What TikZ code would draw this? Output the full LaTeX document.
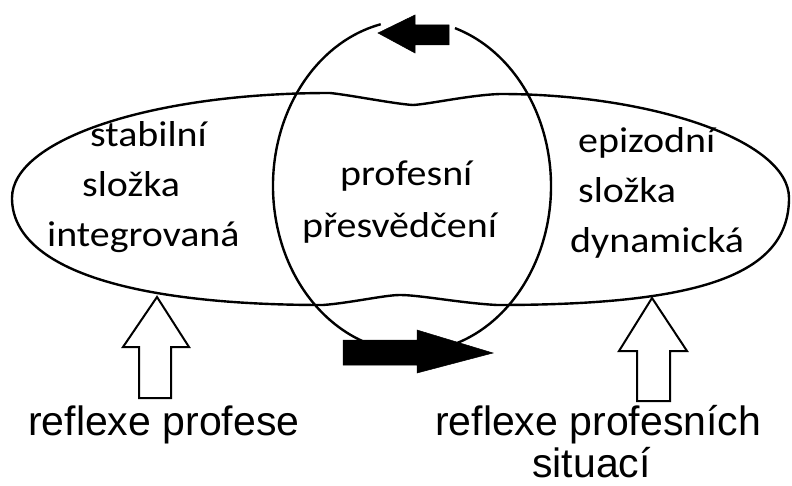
\documentclass[tikz,border=0pt]{standalone}
\usepackage{fontspec}
\usepackage{graphicx}
\setmainfont{Carlito}
\newfontfamily\arialfont{Liberation Sans}
\tikzset{
  outline/.style={line width=2.4pt, line join=round},
  blackarrow/.style={fill=black, draw=black, line width=0.5pt},
  whitearrow/.style={fill=white, draw=black, line width=2pt, line join=miter},
  uptext/.style={anchor=base west, inner sep=0pt, font=\fontsize{36}{43}\selectfont},
  lowtext/.style={anchor=base west, inner sep=0pt, font=\arialfont\fontsize{41}{48}\selectfont}
}
\newcommand{\wide}[1]{\scalebox{1.11}[1]{#1}}
\begin{document}
\begin{tikzpicture}[x=1pt,y=1pt]
\useasboundingbox (0,0) rectangle (792,485);
\fill[white] (0,0) rectangle (792,485);
% vertical ellipse (gap at the top for the arrow)
\draw[outline] (412,299) ++(103:139pt and 166pt) arc[start angle=103, end angle=432, x radius=139pt, y radius=166pt];
% horizontal ellipse with notches
\draw[outline] (12,287)
  .. controls (12,345) and (150,392) .. (330,392)
  .. controls (350,390) and (395,381) .. (413,380)
  .. controls (430,381) and (470,390) .. (500,391)
  .. controls (650,391) and (789,345) .. (789,287)
  .. controls (789,210) and (700,180) .. (497,180)
  .. controls (460,182) and (420,190) .. (400,190)
  .. controls (385,190) and (350,182) .. (323,180)
  .. controls (120,180) and (12,220) .. (12,287) -- cycle;
% black arrows
\filldraw[blackarrow] (378,452) -- (415,470) -- (415,460) -- (449,460) -- (449,440) -- (415,440) -- (415,432) -- cycle;
\filldraw[blackarrow] (493,132) -- (417,155) -- (417,145) -- (343,145) -- (343,120) -- (417,120) -- (417,112) -- cycle;
% white up arrows
\filldraw[whitearrow] (157,188) -- (189,138) -- (171,138) -- (171,87) -- (139,87) -- (139,138) -- (123,138) -- cycle;
\filldraw[whitearrow] (652,187) -- (687,134) -- (670,134) -- (670,84) -- (637,84) -- (637,134) -- (619,134) -- cycle;
% texts
\node[uptext] (s1) at (90,338) {\wide{stabilní}};
\node[uptext] (s2) at (82,288) {\wide{složka}};
\node[uptext] (s3) at (47,238) {\wide{integrovaná}};
\node[uptext] (e1) at (578,332) {\wide{epizodní}};
\node[uptext] (e2) at (578,282) {\wide{složka}};
\node[uptext] (e3) at (570,232) {\wide{dynamická}};
\node[uptext] (p1) at (340,299) {\wide{profesní}};
\node[uptext] (p2) at (302,247) {\wide{přesvědčení}};
\node[lowtext] (r1) at (28,50) {reflexe profese};
\node[lowtext] (r2) at (435,50) {reflexe profesních};
\node[lowtext] (r3) at (532,8) {situací};
\end{tikzpicture}
\end{document}
